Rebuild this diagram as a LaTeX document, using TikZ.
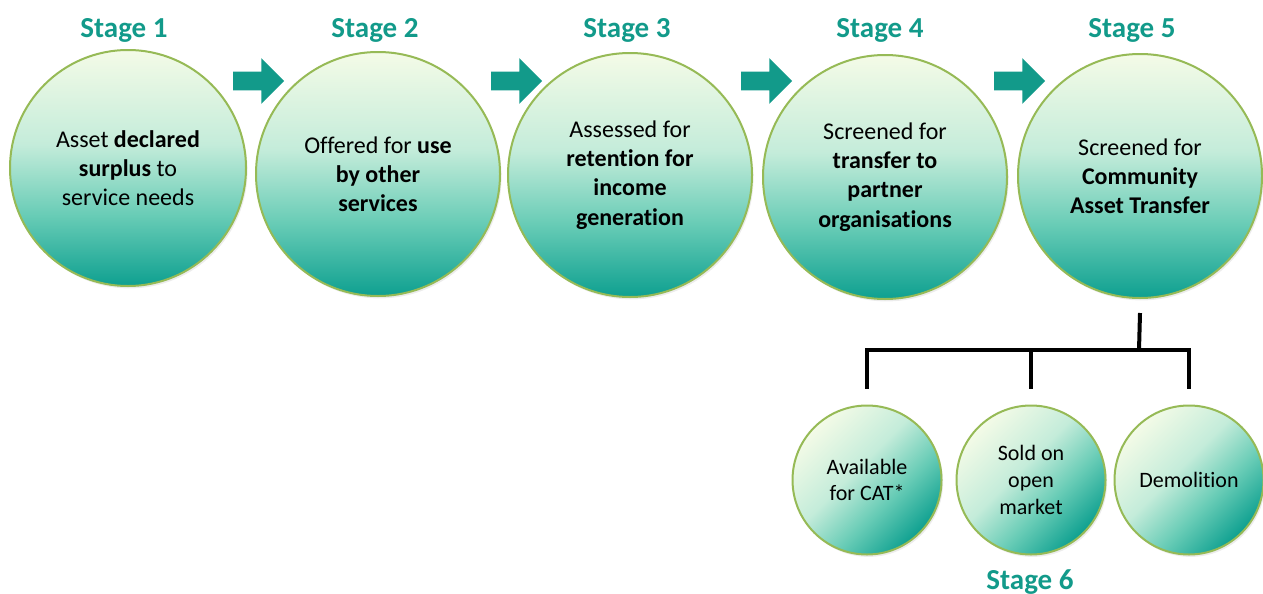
\documentclass[tikz,border=0pt]{standalone}
\usepackage{fontspec}
\setmainfont{Carlito}[Ligatures=NoCommon]
\usetikzlibrary{shapes.arrows,shadows}

\definecolor{stageteal}{RGB}{18,154,138}
\definecolor{ringgreen}{RGB}{150,186,86}
\definecolor{palefill}{RGB}{244,251,231}
\definecolor{softfill}{RGB}{196,236,218}
\definecolor{midfill}{RGB}{104,204,182}
\definecolor{deepfill}{RGB}{14,160,144}

\pgfdeclareverticalshading{stageshade}{100bp}{color(0bp)=(deepfill); color(25bp)=(deepfill); color(40bp)=(midfill); color(55bp)=(softfill); color(75bp)=(palefill); color(100bp)=(palefill)}

\begin{document}
\begin{tikzpicture}[x=0.5pt, y=-0.5pt,
		stage/.style={circle, draw=ringgreen, line width=1pt, shade, shading=stageshade, minimum size=122pt, inner sep=0pt, align=center, font=\fontsize{12}{14.6}\selectfont, drop shadow={opacity=0.15, shadow xshift=0.8pt, shadow yshift=-1.2pt}},
		outcome/.style={stage, minimum size=74.5pt, shading angle=45, font=\fontsize{11}{13.4}\selectfont},
		stagelabel/.style={text=stageteal, font=\fontsize{14.5}{17}\selectfont\bfseries},
		flow/.style={single arrow, fill=stageteal, draw=none, minimum height=25.5pt, inner sep=4.5pt, single arrow head extend=6.75pt, single arrow head indent=0pt},
		branch/.style={line width=2pt}
	]
		\useasboundingbox (0,0) rectangle (1263,594);

		\node[stage, minimum size=118pt] (s1) at (128,168) {Asset \textbf{declared}\\\textbf{surplus} to\\service needs};
		\node[stage] (s2) at (378,174) {Offered for \textbf{use}\\\textbf{by other}\\\textbf{services}};
		\node[stage] (s3) at (630,175) {Assessed for\\\textbf{retention for}\\\textbf{income}\\\textbf{generation}};
		\node[stage] (s4) at (885,177) {Screened for\\\textbf{transfer to}\\\textbf{partner}\\\textbf{organisations}};
		\node[stage] (s5) at (1140,176) {Screened for\\\textbf{Community}\\\textbf{Asset Transfer}};

		\node[stagelabel] (l1) at (124,30) {Stage 1};
		\node[stagelabel] (l2) at (375,30) {Stage 2};
		\node[stagelabel] (l3) at (627,30) {Stage 3};
		\node[stagelabel] (l4) at (880,30) {Stage 4};
		\node[stagelabel] (l5) at (1132,30) {Stage 5};

		\node[flow] (a1) at (254,81) {};
		\node[flow] (a2) at (512,81) {};
		\node[flow] (a3) at (762,81) {};
		\node[flow] (a4) at (1015,81) {};

		\node[outcome] (o1) at (867,480) {Available\\for CAT*};
		\node[outcome] (o2) at (1031,480) {Sold on\\open\\market};
		\node[outcome] (o3) at (1189,480) {Demolition};
		\node[stagelabel] (l6) at (1030,582) {Stage 6};

		\coordinate (hub) at (1139,350);
		\draw[branch] ([yshift=-7pt]s5.south) -- (hub);
		\draw[branch] ([yshift=8pt]o1.north) -- (o1 |- hub) -- (o3 |- hub) -- ([yshift=8pt]o3.north);
		\draw[branch] (o2 |- hub) -- ([yshift=8pt]o2.north);
	\end{tikzpicture}
\end{document}
